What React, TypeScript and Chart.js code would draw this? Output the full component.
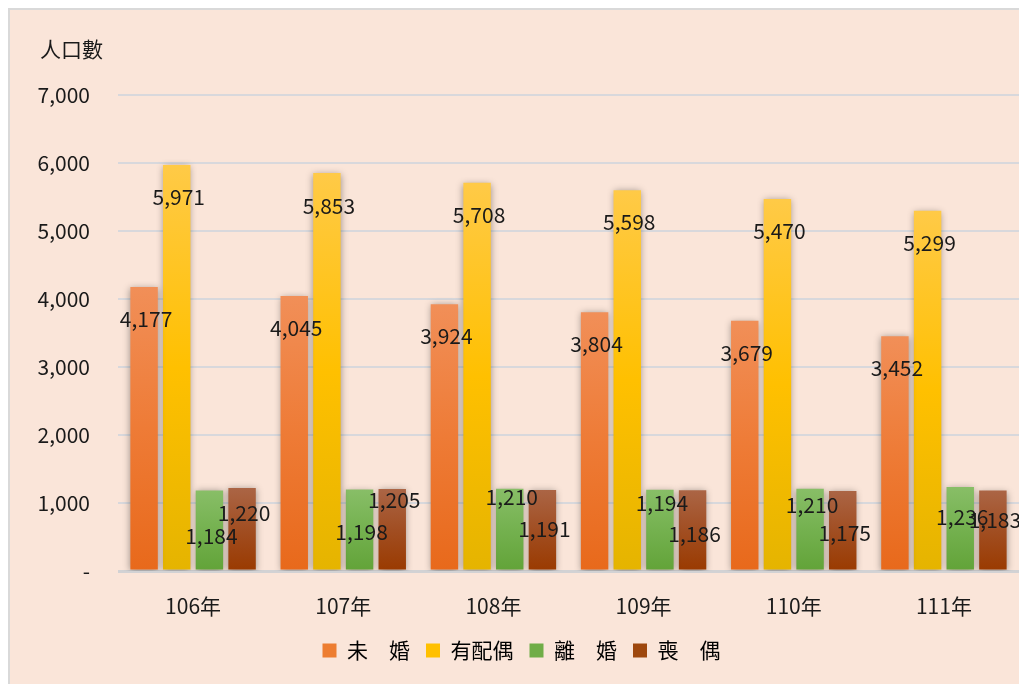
import React, { useEffect, useRef } from "react";
import { Chart, registerables } from "chart.js";

Chart.register(...registerables);

const categories = ["106年", "107年", "108年", "109年", "110年", "111年"];
const seriesNames = ["未　婚", "有配偶", "離　婚", "喪　偶"];
const unmarried = [4177, 4045, 3924, 3804, 3679, 3452];
const married = [5971, 5853, 5708, 5598, 5470, 5299];
const divorced = [1184, 1198, 1210, 1194, 1210, 1236];
const widowed = [1220, 1205, 1191, 1186, 1175, 1183];
const yTicks = [0, 1000, 2000, 3000, 4000, 5000, 6000, 7000];

// label vertical offsets (px below bar top), styling only
const labelOffsets = [
  [32, 32, 32, 32, 32, 32],
  [32, 33, 32, 32, 32, 32],
  [46, 42, 8, 13, 16, 30],
  [25, 11, 39, 44, 42, 29],
];

const FONT = '"Noto Sans CJK TC", "Noto Sans", sans-serif';

const gradients = [
  ["#F18F58", "#EE7B36", "#E8691B"],
  ["#FFCA47", "#FFC000", "#E5B400"],
  ["#88BE67", "#74B14F", "#62A338"],
  ["#AB6545", "#A14E22", "#9A3A00"],
];
const solids = ["#ED7D31", "#FFC000", "#70AD47", "#9E480E"];

const fmt = (v: number) => (v === 0 ? "-" : v.toLocaleString("en-US"));

function makeBg(idx: number) {
  return (c: any) => {
    const chart = c.chart;
    if (c.type !== "data" || !chart.chartArea) return solids[idx];
    const y = chart.scales.y;
    const top = y.getPixelForValue(c.raw);
    const base = y.getPixelForValue(0);
    const g = chart.ctx.createLinearGradient(0, top, 0, base);
    g.addColorStop(0, gradients[idx][0]);
    g.addColorStop(0.5, gradients[idx][1]);
    g.addColorStop(1, gradients[idx][2]);
    return g;
  };
}

const shadowPlugin = {
  id: "barShadow",
  beforeDatasetDraw(chart: any) {
    const ctx = chart.ctx;
    ctx.save();
    ctx.shadowColor = "rgba(0,0,0,0.38)";
    ctx.shadowBlur = 7;
    ctx.shadowOffsetX = 0;
    ctx.shadowOffsetY = 1;
  },
  afterDatasetDraw(chart: any) {
    chart.ctx.restore();
  },
};

const legendShiftPlugin = {
  id: "legendShift",
  afterLayout(chart: any) {
    if (chart.legend) {
      chart.legend.left += 7;
      chart.legend.right += 7;
    }
  },
};

const labelPlugin = {
  id: "valueLabels",
  afterDatasetsDraw(chart: any) {
    const ctx = chart.ctx;
    ctx.save();
    ctx.font = `21px ${FONT}`;
    ctx.fillStyle = "#1a1a1a";
    ctx.textAlign = "center";
    ctx.textBaseline = "middle";
    chart.data.datasets.forEach((ds: any, di: number) => {
      const meta = chart.getDatasetMeta(di);
      meta.data.forEach((bar: any, i: number) => {
        ctx.fillText(fmt(ds.data[i]), bar.x + 2, bar.y + labelOffsets[di][i]);
      });
    });
    ctx.restore();
  },
};

const titlePlugin = {
  id: "unitTitle",
  afterDraw(chart: any) {
    const ctx = chart.ctx;
    ctx.save();
    ctx.font = `21px ${FONT}`;
    ctx.fillStyle = "#1a1a1a";
    ctx.textAlign = "left";
    ctx.textBaseline = "middle";
    ctx.fillText("人口數", 30, 39);
    ctx.restore();
  },
};

export default function App() {
  const ref = useRef<HTMLCanvasElement | null>(null);
  useEffect(() => {
    if (!ref.current) return;
    const seriesData = [unmarried, married, divorced, widowed];
    const chart = new Chart(ref.current, {
      type: "bar",
      data: {
        labels: categories,
        datasets: seriesData.map((d, i) => ({
          label: seriesNames[i],
          data: d,
          backgroundColor: makeBg(i),
          borderWidth: 0,
          categoryPercentage: 0.87,
          barPercentage: 0.84,
        })),
      },
      options: {
        responsive: false,
        animation: false,
        layout: { padding: { top: 85, left: 0, right: 0, bottom: 13 } },
        plugins: {
          tooltip: { enabled: false },
          legend: {
            position: "bottom",
            labels: {
              font: { family: FONT, size: 21 },
              color: "#1a1a1a",
              boxWidth: 14,
              boxHeight: 14,
              padding: 16,
              generateLabels: (chart: any) =>
                chart.data.datasets.map((ds: any, i: number) => ({
                  text: ds.label,
                  fillStyle: solids[i],
                  strokeStyle: solids[i],
                  lineWidth: 0,
                  datasetIndex: i,
                  hidden: false,
                })),
            },
          },
        },
        scales: {
          x: {
            grid: { display: false, drawTicks: false },
            border: { display: false },
            ticks: { font: { family: FONT, size: 21 }, color: "#1a1a1a", padding: 22 },
            afterFit: (s: any) => {
              s.height = 53;
            },
          },
          y: {
            min: 0,
            max: 7000,
            afterBuildTicks: (s: any) => {
              s.ticks = yTicks.map((v) => ({ value: v }));
            },
            grid: {
              drawTicks: false,
              color: (c: any) => (c.tick && c.tick.value === 0 ? "#D2D2D4" : "#D8D8DC"),
              lineWidth: (c: any) => (c.tick && c.tick.value === 0 ? 3 : 2),
            },
            border: { display: false },
            ticks: {
              font: { family: FONT, size: 21 },
              color: "#1a1a1a",
              padding: 28,
              callback: (v: any) => fmt(Number(v)),
            },
            afterFit: (s: any) => {
              s.width = 108;
            },
          },
        },
      },
      plugins: [shadowPlugin, legendShiftPlugin, labelPlugin, titlePlugin],
    } as any);
    return () => chart.destroy();
  }, []);

  return (
    <div
      style={{
        position: "fixed",
        left: 8,
        top: 8,
        width: 1011,
        height: 676,
        boxSizing: "border-box",
        borderLeft: "2px solid #D9D9D9",
        borderTop: "2px solid #D9D9D9",
        background: "#FAE5D9",
        overflow: "hidden",
      }}
    >
      <canvas ref={ref} width={1009} height={674} style={{ display: "block" }} />
    </div>
  );
}
